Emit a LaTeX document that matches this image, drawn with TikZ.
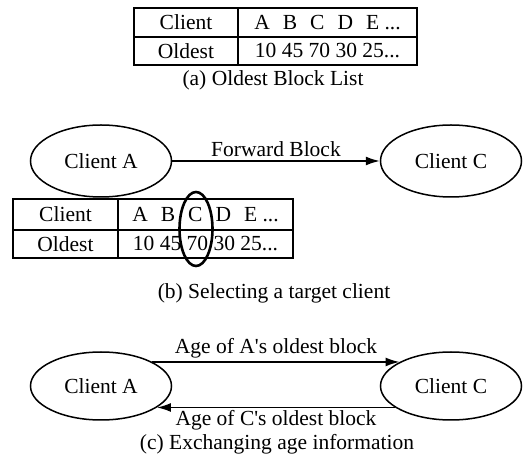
\documentclass[tikz,border=0pt]{standalone}
\usepackage{fontspec}
\setmainfont{Liberation Serif}
\usetikzlibrary{positioning,shapes.geometric,arrows.meta}
\tikzset{every node/.style={font=\fontsize{21.5}{25}\selectfont},
  client/.style={draw, ellipse, minimum width=141pt, minimum height=72pt, line width=1.5pt},
  cell/.style={draw, rectangle, inner sep=0pt, outer sep=0pt, line width=1.5pt},
  msg/.style={-{Latex[length=14pt,width=9pt]}, line width=1.5pt}}
\newcommand{\colgap}{\hspace{13pt}}

\begin{document}
\begin{tikzpicture}[x=1pt,y=-1pt]
   \useasboundingbox (0,0) rectangle (523,462);
   % (a) oldest block list
   \node[cell, minimum width=104pt, minimum height=29pt] (a-key1) at (186,22.5) {Client};
   \node[cell, minimum width=179pt, minimum height=29pt, right=0pt of a-key1] (a-val1) {A\colgap B\colgap C\colgap D\colgap E ...};
   \node[cell, minimum width=104pt, minimum height=28pt, below=0pt of a-key1] (a-key2) {Oldest};
   \node[cell, minimum width=179pt, minimum height=28pt, right=0pt of a-key2] (a-val2) {10 45 70 30 25...};
   \node (a-cap) at (273,80) {(a) Oldest Block List};
   % (b) selecting a target client
   \node[client] (b-a) at (101,161) {Client A};
   \node[client] (b-c) at (451,161) {Client C};
   \draw[msg] (b-a) -- node[above] (b-msg) {Forward Block} (b-c);
   \node[cell, minimum width=105pt, minimum height=31pt] (b-key1) at (65.5,214.5) {Client};
   \node[cell, minimum width=175pt, minimum height=31pt, right=0pt of b-key1] (b-val1) {A\colgap B\colgap C\colgap D\colgap E ...};
   \node[cell, minimum width=105pt, minimum height=28pt, below=0pt of b-key1] (b-key2) {Oldest};
   \node[cell, minimum width=175pt, minimum height=28pt, right=0pt of b-key2] (b-val2) {10 45 70 30 25...};
   \node[draw, ellipse, line width=2.6pt, inner sep=0pt, minimum width=33pt, minimum height=74pt] (b-pick) at (196,229) {};
   \node (b-cap) at (274,293) {(b) Selecting a target client};
   % (c) exchanging age information
   \node[client, minimum height=68pt] (c-a) at (101,386) {Client A};
   \node[client, minimum height=68pt] (c-c) at (451,386) {Client C};
   \draw[msg] (c-a.25) -- node[above] (c-up) {Age of A\textquotesingle s oldest block} (c-c.155);
   \draw[msg] (c-c.201) -- node[below, inner sep=2pt] (c-down) {Age of C\textquotesingle s oldest block} (c-a.-21);
   \node (c-cap) at (277,444) {(c) Exchanging age information};
\end{tikzpicture}
\end{document}
